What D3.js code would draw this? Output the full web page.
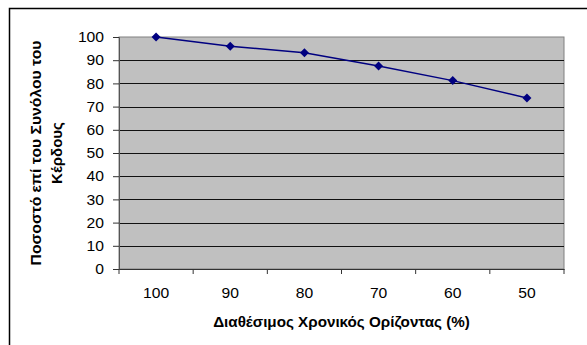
<!DOCTYPE html>
<html>
<head>
<meta charset="utf-8">
<script src="https://cdn.jsdelivr.net/npm/d3@7/dist/d3.min.js"></script>
<style>
  html, body { margin: 0; padding: 0; background: #fff; }
  svg { display: block; }
  text { font-family: "Liberation Sans", Arial, sans-serif; fill: #000; }
</style>
</head>
<body>
<svg id="chart" width="587" height="345"></svg>
<script>
// Available time horizon (%) and share of total profit (%)
const categories = ["100", "90", "80", "70", "60", "50"];
const values = [100, 96, 93.2, 87.5, 81.2, 73.7];
const yTicks = [0, 10, 20, 30, 40, 50, 60, 70, 80, 90, 100];
const xTitle = "Διαθέσιμος Χρονικός Ορίζοντας (%)";
const yTitleLines = ["Ποσοστό επί του Συνόλου του", "Κέρδους"];

const svg = d3.select("#chart");
const W = 587, H = 345;
const plot = { left: 119, right: 564, top: 37, bottom: 269 };
const labelStretch = 1.08; // horizontal widening of the tick lettering

// widen a text element horizontally about its own anchor point
function widen(node, sx) {
  const ax = +node.getAttribute("x") || 0;
  const prev = node.getAttribute("transform") || "";
  node.setAttribute("transform",
    `${prev} translate(${ax},0) scale(${sx},1) translate(${-ax},0)`);
}

// outer chart frame
svg.append("rect")
  .attr("x", 9.5).attr("y", 8.5)
  .attr("width", W + 10).attr("height", H + 10)
  .attr("fill", "#fff").attr("stroke", "#000").attr("stroke-width", 1.5);

const x = d3.scaleBand().domain(categories).range([plot.left, plot.right]).padding(0);
const y = d3.scaleLinear().domain([0, 100]).range([plot.bottom, plot.top]);

// plot area background
svg.append("rect")
  .attr("x", plot.left).attr("y", plot.top)
  .attr("width", plot.right - plot.left).attr("height", plot.bottom - plot.top)
  .attr("fill", "#c0c0c0").attr("stroke", "#808080").attr("stroke-width", 1);

// horizontal gridlines
svg.append("g").selectAll("line")
  .data(yTicks.filter(t => t > 0 && t < 100))
  .join("line")
  .attr("x1", plot.left).attr("x2", plot.right)
  .attr("y1", d => Math.round(y(d)) + 0.5).attr("y2", d => Math.round(y(d)) + 0.5)
  .attr("stroke", "#111").attr("stroke-width", 1);

// y axis
const yAxis = svg.append("g")
  .attr("transform", `translate(${plot.left},0)`)
  .call(d3.axisLeft(y).tickValues(yTicks).tickSize(6).tickPadding(9).tickFormat(d3.format("d")));
yAxis.select(".domain").attr("stroke", "#555");
yAxis.selectAll(".tick line").attr("stroke", "#333");
yAxis.selectAll("text")
  .attr("font-size", 14.5).attr("font-family", "Liberation Sans, Arial, sans-serif")
  .attr("fill", "#000")
  .each(function () { widen(this, labelStretch); });

// x axis with ticks on category boundaries
const xAxis = svg.append("g")
  .attr("transform", `translate(0,${plot.bottom})`)
  .call(d3.axisBottom(x).tickSize(0).tickPadding(19));
xAxis.select(".domain").attr("stroke", "#333");
xAxis.selectAll("text")
  .attr("font-size", 14.5).attr("font-family", "Liberation Sans, Arial, sans-serif")
  .attr("fill", "#000")
  .each(function () { widen(this, labelStretch); });
svg.append("g").selectAll("line")
  .data(categories.map(c => x(c)).concat([x.range()[1]]))
  .join("line")
  .attr("x1", d => d).attr("x2", d => d)
  .attr("y1", plot.bottom).attr("y2", plot.bottom + 5)
  .attr("stroke", "#333");

// data line
const line = d3.line()
  .x((d, i) => x(categories[i]) + x.bandwidth() / 2)
  .y(d => y(d));
svg.append("path")
  .datum(values)
  .attr("d", line)
  .attr("fill", "none").attr("stroke", "#000080").attr("stroke-width", 1.5);

// diamond markers
svg.append("g").selectAll("path")
  .data(values)
  .join("path")
  .attr("transform", (d, i) => `translate(${x(categories[i]) + x.bandwidth() / 2},${y(d)})`)
  .attr("d", "M0,-4.5L4.5,0L0,4.5L-4.5,0Z")
  .attr("fill", "#000080");

// axis titles, each fitted to its run length
function fitRun(node, target) {
  const len = node.getComputedTextLength();
  widen(node, target / len);
}

svg.append("text")
  .attr("x", (plot.left + plot.right) / 2).attr("y", 327)
  .attr("text-anchor", "middle")
  .attr("font-size", 14).attr("font-weight", "bold")
  .text(xTitle)
  .each(function () { fitRun(this, 257); });

const cy = (plot.top + plot.bottom) / 2;
const yTitleLens = [225, 62];
svg.append("g")
  .attr("transform", `translate(0,${cy}) rotate(-90)`)
  .selectAll("text")
  .data(yTitleLines)
  .join("text")
  .attr("x", 0)
  .attr("y", (d, i) => 41 + i * 21)
  .attr("text-anchor", "middle")
  .attr("font-size", 14).attr("font-weight", "bold")
  .text(d => d)
  .each(function (d, i) { fitRun(this, yTitleLens[i]); });
</script>
</body>
</html>
